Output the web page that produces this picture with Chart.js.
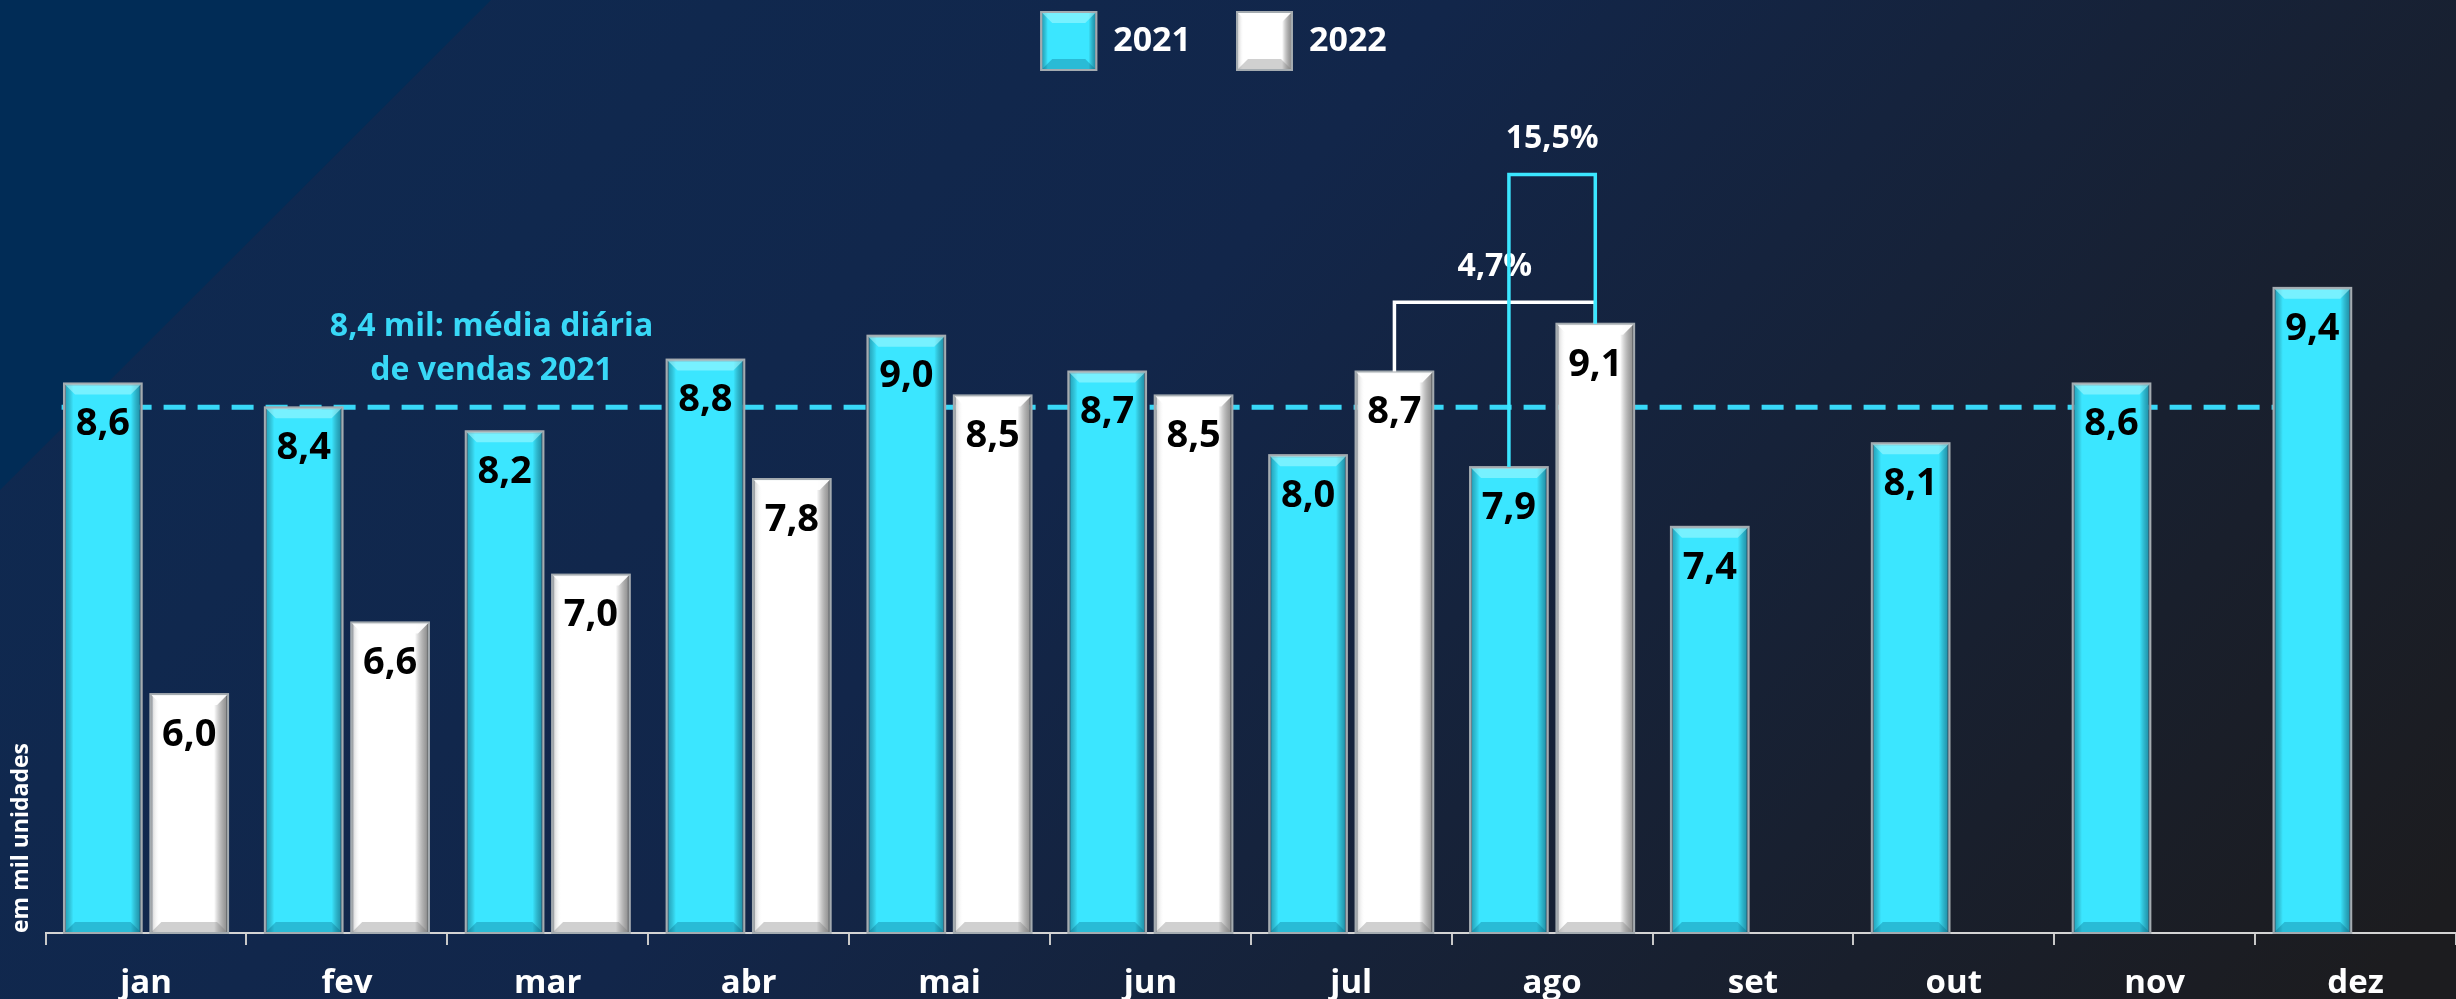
<!DOCTYPE html>
<html>
<head>
<meta charset="utf-8">
<title>Média diária de vendas</title>
<script src="https://cdn.jsdelivr.net/npm/chart.js@4.4.1/dist/chart.umd.min.js"></script>
<style>
    html, body { margin: 0; padding: 0; background: #10264a; overflow: hidden; }
    #wrap { width: 2456px; height: 999px; position: relative; }
    canvas { display: block; }
</style>
</head>
<body>
<div id="wrap"><canvas id="salesChart" width="2456" height="999"></canvas></div>
<script>
// Data (mil unidades por dia)
const months = ['jan', 'fev', 'mar', 'abr', 'mai', 'jun', 'jul', 'ago', 'set', 'out', 'nov', 'dez'];
const sales2021 = [8.6, 8.4, 8.2, 8.8, 9.0, 8.7, 8.0, 7.9, 7.4, 8.1, 8.6, 9.4];
const sales2022 = [6.0, 6.6, 7.0, 7.8, 8.5, 8.5, 8.7, 9.1, null, null, null, null];
const seriesNames = ['2021', '2022'];
const avg2021 = 8.4;
const avgText = ['8,4 mil: média diária', 'de vendas 2021'];

// Growth brackets: which bars they join, and the value level of the bar across the top
const brackets = [
    { text: '4,7%', from: [1, 6], to: [1, 7], level: 9.28, color: '#ffffff' },
    { text: '15,5%', from: [0, 7], to: [1, 7], level: 10.35, color: '#3be6ff' }
];

const CYAN = '#3be6ff';
const fmt = v => v.toFixed(1).replace('.', ',');

// bevel look drawn over a rectangle
function bevel(ctx, left, top, right, bottom, cyan) {
    const b = Math.min(11, (right - left) / 5);
    const g = ctx.createLinearGradient(left, 0, right, 0);
    if (cyan) {
        g.addColorStop(0, 'rgba(0,70,100,0.45)');
        g.addColorStop(0.12, 'rgba(0,0,0,0)');
        g.addColorStop(0.86, 'rgba(0,0,0,0)');
        g.addColorStop(1, 'rgba(0,60,90,0.55)');
    } else {
        g.addColorStop(0, 'rgba(140,140,140,0.55)');
        g.addColorStop(0.12, 'rgba(255,255,255,0)');
        g.addColorStop(0.82, 'rgba(0,0,0,0)');
        g.addColorStop(1, 'rgba(90,90,90,0.7)');
    }
    ctx.fillStyle = g;
    ctx.fillRect(left, top, right - left, bottom - top);

    ctx.fillStyle = cyan ? 'rgba(160,248,255,0.6)' : 'rgba(255,255,255,0.95)';
    ctx.beginPath();
    ctx.moveTo(left, top); ctx.lineTo(right, top);
    ctx.lineTo(right - b, top + b); ctx.lineTo(left + b, top + b);
    ctx.closePath(); ctx.fill();

    ctx.fillStyle = cyan ? 'rgba(0,90,120,0.3)' : 'rgba(120,120,120,0.35)';
    ctx.beginPath();
    ctx.moveTo(left, bottom); ctx.lineTo(right, bottom);
    ctx.lineTo(right - b, bottom - b); ctx.lineTo(left + b, bottom - b);
    ctx.closePath(); ctx.fill();

    ctx.strokeStyle = '#a4abb0';
    ctx.lineWidth = 2;
    ctx.strokeRect(left, top, right - left, bottom - top);
}

const backgroundPlugin = {
    id: 'background',
    beforeDraw(chart) {
        const { ctx, width, height } = chart;
        ctx.save();
        const g = ctx.createLinearGradient(0, 0, width * 0.75, height * 1.6);
        g.addColorStop(0, '#0e2a52');
        g.addColorStop(0.45, '#12264a');
        g.addColorStop(1, '#1c1c1f');
        ctx.fillStyle = g;
        ctx.fillRect(0, 0, width, height);
        // bluer diagonal wedge in the top-left corner
        ctx.fillStyle = '#012c56';
        ctx.beginPath();
        ctx.moveTo(0, 0); ctx.lineTo(491, 0); ctx.lineTo(0, 490);
        ctx.closePath(); ctx.fill();
        ctx.restore();
    }
};

const averagePlugin = {
    id: 'averageLine',
    beforeDatasetsDraw(chart) {
        const { ctx, chartArea } = chart;
        const x = chart.scales.x, y = chart.scales.y;
        const py = y.getPixelForValue(avg2021);
        const last = chart.getDatasetMeta(0).data[months.length - 1];
        ctx.save();
        ctx.strokeStyle = '#38d8f7';
        ctx.lineWidth = 5;
        ctx.setLineDash([22, 12]);
        ctx.beginPath();
        ctx.moveTo(chartArea.left + 16, py);
        ctx.lineTo(last.x - last.width / 2, py);
        ctx.stroke();
        ctx.setLineDash([]);
        ctx.fillStyle = '#38d8f7';
        ctx.font = 'bold 32px "Open Sans"';
        ctx.textAlign = 'center';
        ctx.textBaseline = 'middle';
        const cx = x.getPixelForValue(1.72);
        ctx.fillText(avgText[0], cx, py - 80);
        ctx.fillText(avgText[1], cx, py - 36);
        ctx.restore();
    }
};

const barDecorPlugin = {
    id: 'barDecor',
    afterDatasetsDraw(chart) {
        const { ctx, chartArea } = chart;
        const y = chart.scales.y;
        ctx.save();
        chart.data.datasets.forEach((ds, di) => {
            chart.getDatasetMeta(di).data.forEach((el, i) => {
                const v = ds.data[i];
                if (v === null) return;
                const l = el.x - el.width / 2, r = el.x + el.width / 2;
                bevel(ctx, l, el.y, r, Math.min(el.base, chartArea.bottom), di === 0);
                ctx.fillStyle = '#000';
                ctx.font = 'bold 38px "Open Sans"';
                ctx.textAlign = 'center';
                ctx.textBaseline = 'middle';
                ctx.fillText(fmt(v), el.x, el.y + 41);
            });
        });

        // growth brackets
        brackets.forEach(bk => {
            const a = chart.getDatasetMeta(bk.from[0]).data[bk.from[1]];
            const b = chart.getDatasetMeta(bk.to[0]).data[bk.to[1]];
            const top = y.getPixelForValue(bk.level);
            ctx.strokeStyle = bk.color;
            ctx.lineWidth = 3.5;
            ctx.beginPath();
            ctx.moveTo(a.x, a.y);
            ctx.lineTo(a.x, top);
            ctx.lineTo(b.x, top);
            ctx.lineTo(b.x, b.y);
            ctx.stroke();
            ctx.fillStyle = '#ffffff';
            ctx.font = 'bold 32px "Open Sans"';
            ctx.textAlign = 'center';
            ctx.textBaseline = 'middle';
            ctx.fillText(bk.text, (a.x + b.x) / 2, top - 35);
        });

        ctx.restore();
    },
    afterDraw(chart) {
        // bevel on the legend swatches
        const lg = chart.legend;
        if (!lg || !lg.legendHitBoxes) return;
        const { ctx } = chart;
        const bw = lg.options.labels.boxWidth, bh = lg.options.labels.boxHeight;
        ctx.save();
        lg.legendHitBoxes.forEach((hb, i) => {
            const top = hb.top + (hb.height - bh) / 2;
            bevel(ctx, hb.left, top, hb.left + bw, top + bh, i === 0);
        });
        ctx.restore();
    }
};

const ctx = document.getElementById('salesChart').getContext('2d');
new Chart(ctx, {
    type: 'bar',
    data: {
        labels: months,
        datasets: [{
            label: seriesNames[0],
            data: sales2021,
            backgroundColor: CYAN,
            borderColor: '#a4abb0',
            borderWidth: 2,
            categoryPercentage: 0.86,
            barPercentage: 0.9
        }, {
            label: seriesNames[1],
            data: sales2022,
            backgroundColor: '#ffffff',
            borderColor: '#a4abb0',
            borderWidth: 2,
            categoryPercentage: 0.86,
            barPercentage: 0.9
        }]
    },
    options: {
        responsive: false,
        animation: false,
        layout: { padding: { left: 6, right: 0, top: 0, bottom: -23 } },
        plugins: {
            legend: {
                position: 'top',
                labels: {
                    color: '#ffffff',
                    font: { family: 'Open Sans', size: 34, weight: 'bold' },
                    boxWidth: 55,
                    boxHeight: 58,
                    padding: 12,
                    generateLabels(chart) {
                        return Chart.defaults.plugins.legend.labels.generateLabels(chart)
                            .map(item => Object.assign(item, { text: item.text + '\u2003' }));
                    }
                }
            },
            tooltip: { enabled: false }
        },
        scales: {
            x: {
                grid: {
                    offset: true,
                    drawOnChartArea: false,
                    drawTicks: true,
                    tickLength: 12,
                    color: '#c8c8c8',
                    lineWidth: 2
                },
                border: { display: true, color: '#d4d4d4', width: 2 },
                ticks: {
                    color: '#ffffff',
                    font: { family: 'Open Sans', size: 33, weight: 'bold', lineHeight: 1 },
                    padding: 22
                }
            },
            y: {
                min: 4,
                max: 11.14,
                grid: { display: false },
                border: { display: false },
                ticks: { display: false },
                title: {
                    display: true,
                    text: 'em mil unidades',
                    align: 'start',
                    color: '#ffffff',
                    font: { family: 'Open Sans', size: 23, weight: 'bold' },
                    padding: 2
                }
            }
        }
    },
    plugins: [backgroundPlugin, averagePlugin, barDecorPlugin]
});
</script>
</body>
</html>
